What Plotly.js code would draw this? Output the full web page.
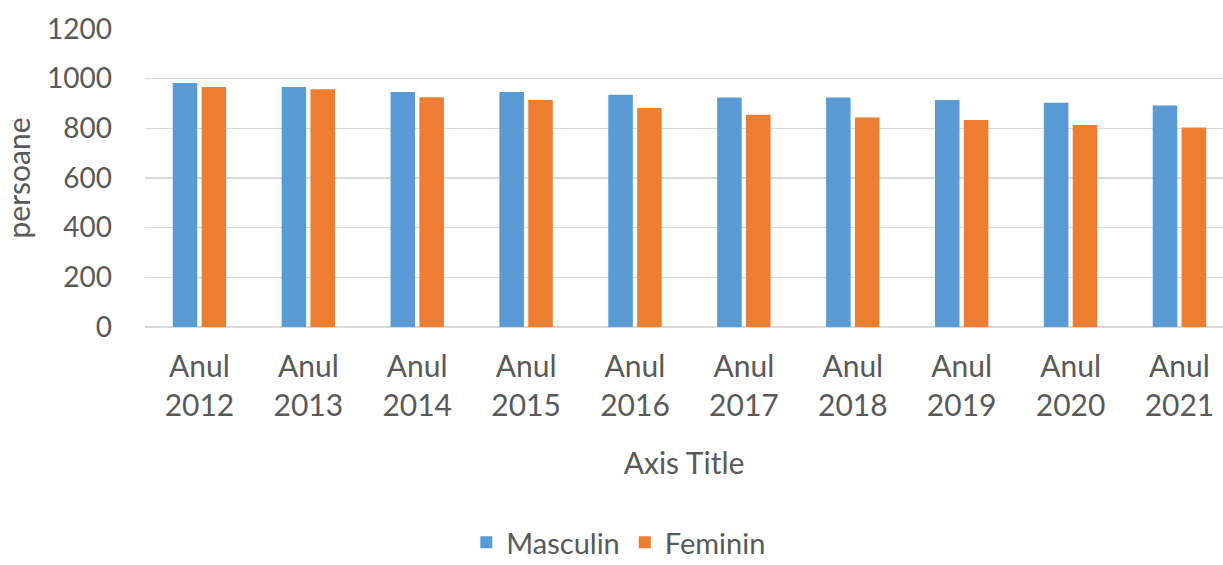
<!DOCTYPE html>
<html>
<head>
<meta charset="utf-8">
<script src="https://cdn.plot.ly/plotly-3.0.1.min.js"></script>
<style>html,body{margin:0;padding:0;background:#fff;}#chart{width:1223px;height:565px;}</style>
</head>
<body>
<div id="chart"></div>
<script>
const categories = ["Anul<br>2012","Anul<br>2013","Anul<br>2014","Anul<br>2015","Anul<br>2016","Anul<br>2017","Anul<br>2018","Anul<br>2019","Anul<br>2020","Anul<br>2021"];
const masculin = [983, 966, 946, 946, 935, 924, 924, 914, 903, 892];
const feminin  = [966, 957, 925, 914, 882, 855, 844, 834, 813, 803];
const seriesNames = ["Masculin", "Feminin"];
const yTicks = [0, 200, 400, 600, 800, 1000, 1200];

const FONT = "Lato, 'Open Sans', sans-serif";
const GRAY = "#595959";

const data = [
  {type:"bar", name:seriesNames[0], x:categories, y:masculin, marker:{color:"#5B9BD5"}},
  {type:"bar", name:seriesNames[1], x:categories, y:feminin, marker:{color:"#ED7D31"}}
];
const layout = {
  width:1223, height:565,
  margin:{l:144.5, r:0, t:28.7, b:238.3},
  paper_bgcolor:"#fff", plot_bgcolor:"#fff",
  font:{family:FONT, color:GRAY, size:28},
  barmode:"group", bargap:0.47, bargroupgap:0.15,
  xaxis:{
    type:"category", range:[-0.5, 9.4],
    showgrid:false, showline:false, ticks:"",
    ticklabelstandoff:19, tickangle:0,
    tickfont:{size:30, color:GRAY},
    title:{text:"Axis Title", font:{size:30, color:GRAY}, standoff:31}
  },
  yaxis:{
    range:[0,1200], tickvals:yTicks, ticktext:yTicks.map(String),
    showgrid:true, gridcolor:"#d9d9d9", gridwidth:1.5,
    zeroline:true, zerolinecolor:"#d9d9d9", zerolinewidth:1.5,
    showline:false, ticks:"", ticklabelstandoff:32,
    tickfont:{size:28, color:GRAY},
    title:{text:"persoane", font:{size:30, color:GRAY}, standoff:14}
  },
  showlegend:true,
  legend:{orientation:"h", xref:"container", yref:"container", x:0.506, xanchor:"center", y:0.04, yanchor:"middle",
    font:{size:29, color:GRAY}, itemwidth:30, traceorder:"normal"}
};
Plotly.newPlot("chart", data, layout, {displayModeBar:false, staticPlot:true});
</script>
</body>
</html>
